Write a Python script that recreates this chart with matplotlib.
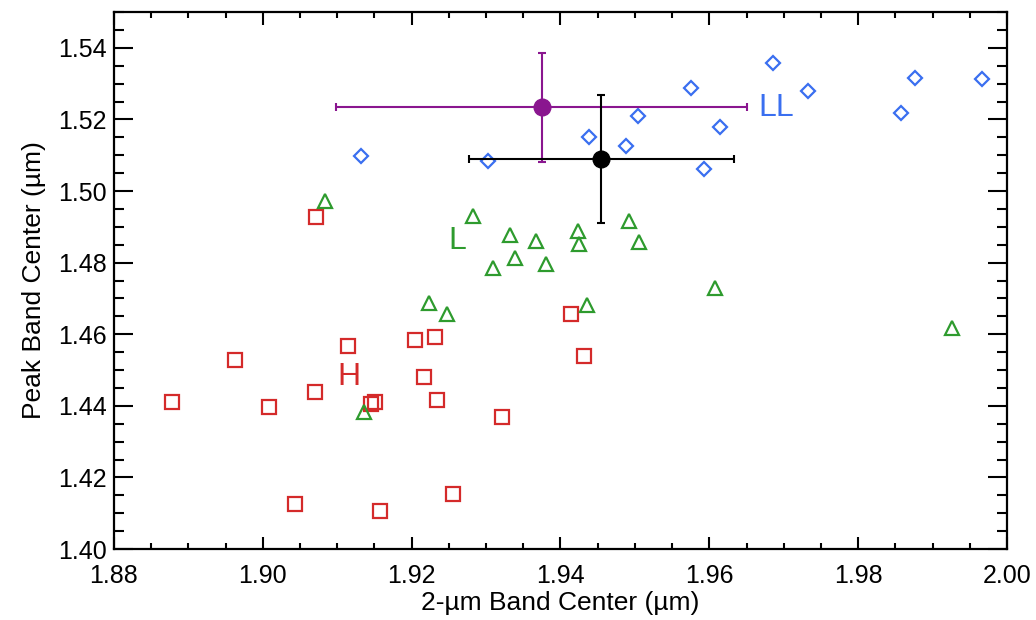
import matplotlib
matplotlib.use("Agg")
import matplotlib.pyplot as plt
from matplotlib.ticker import MultipleLocator, FormatStrFormatter

plt.rcParams['font.family'] = ['Liberation Sans', 'DejaVu Sans']

# H group (red squares)
h_x = [1.9071, 1.8878, 1.8963, 1.9008, 1.9070, 1.9115, 1.9146, 1.9151, 1.9204, 1.9232,
       1.9216, 1.9234, 1.9321, 1.9043, 1.9157, 1.9256, 1.9414, 1.9432]
h_y = [1.4927, 1.4411, 1.4528, 1.4396, 1.4438, 1.4566, 1.4405, 1.4410, 1.4584, 1.4591,
       1.4481, 1.4415, 1.4370, 1.4127, 1.4105, 1.4154, 1.4656, 1.4539]

# L group (green triangles)
l_x = [1.9084, 1.9283, 1.9332, 1.9367, 1.9309, 1.9339, 1.9381, 1.9423, 1.9425, 1.9492,
       1.9505, 1.9607, 1.9436, 1.9926, 1.9223, 1.9248, 1.9136]
l_y = [1.4972, 1.4930, 1.4877, 1.4861, 1.4786, 1.4814, 1.4795, 1.4888, 1.4852, 1.4916,
       1.4857, 1.4730, 1.4682, 1.4618, 1.4688, 1.4656, 1.4384]

# LL group (blue diamonds)
ll_x = [1.9132, 1.9303, 1.9438, 1.9488, 1.9504, 1.9576, 1.9593, 1.9615, 1.9686, 1.9733,
        1.9858, 1.9877, 1.9966]
ll_y = [1.5099, 1.5084, 1.5151, 1.5125, 1.5209, 1.5287, 1.5061, 1.5178, 1.5357, 1.5280,
        1.5217, 1.5317, 1.5314]

# mean points with error bars
purple_pt = (1.9375, 1.5234)
purple_err = (0.0276, 0.0152)
black_pt = (1.9455, 1.5089)
black_err = (0.0178, 0.0179)

# group labels
group_labels = ['H', 'L', 'LL']
label_pos = [(1.9116, 1.4481), (1.9262, 1.4861), (1.9690, 1.5232)]

red = '#d42a2a'
green = '#2e9b2e'
blue = '#3a6ff0'
purple = '#8a168f'
label_colors = [red, green, blue]

fig = plt.figure(figsize=(10.36, 6.2), dpi=100)
ax = fig.add_axes([0.110, 0.1145, 0.862, 0.866])

ax.plot(h_x, h_y, linestyle='none', marker='s', markersize=9.5,
        markerfacecolor='none', markeredgecolor=red, markeredgewidth=1.6)
ax.plot(l_x, l_y, linestyle='none', marker='^', markersize=9.5,
        markerfacecolor='none', markeredgecolor=green, markeredgewidth=1.6)
ax.plot(ll_x, ll_y, linestyle='none', marker='D', markersize=7.5,
        markerfacecolor='none', markeredgecolor=blue, markeredgewidth=1.6)

ax.errorbar(purple_pt[0], purple_pt[1], xerr=purple_err[0], yerr=purple_err[1],
            fmt='o', color=purple, markersize=12, elinewidth=1.5, capsize=3, capthick=1.5)
ax.errorbar(black_pt[0], black_pt[1], xerr=black_err[0], yerr=black_err[1],
            fmt='o', color='black', markersize=12, elinewidth=1.5, capsize=3, capthick=1.5)

for txt, (px, py), c in zip(group_labels, label_pos, label_colors):
    ax.text(px, py, txt, color=c, fontsize=23, ha='center', va='center')

ax.set_xlim(1.88, 2.00)
ax.set_ylim(1.40, 1.55)
ax.xaxis.set_major_locator(MultipleLocator(0.02))
ax.xaxis.set_minor_locator(MultipleLocator(0.005))
ax.yaxis.set_major_locator(MultipleLocator(0.02))
ax.yaxis.set_minor_locator(MultipleLocator(0.005))
ax.xaxis.set_major_formatter(FormatStrFormatter('%.2f'))
ax.yaxis.set_major_formatter(FormatStrFormatter('%.2f'))

ax.tick_params(axis='x', which='major', direction='in', top=True, length=9, width=1.5,
               labelsize=18, pad=11)
ax.tick_params(axis='x', which='minor', direction='in', top=True, length=4, width=1.5)
ax.tick_params(axis='y', which='major', direction='in', right=True, length=13.5, width=1.5,
               labelsize=18, pad=5)
ax.tick_params(axis='y', which='minor', direction='in', right=True, length=7.5, width=1.5)
for sp in ax.spines.values():
    sp.set_linewidth(1.6)

ax.set_xlabel('2-\u00b5m Band Center (\u00b5m)', fontsize=19, labelpad=2)
ax.set_ylabel('Peak Band Center (\u00b5m)', fontsize=19, labelpad=9)

fig.savefig('out.png', dpi=100)
